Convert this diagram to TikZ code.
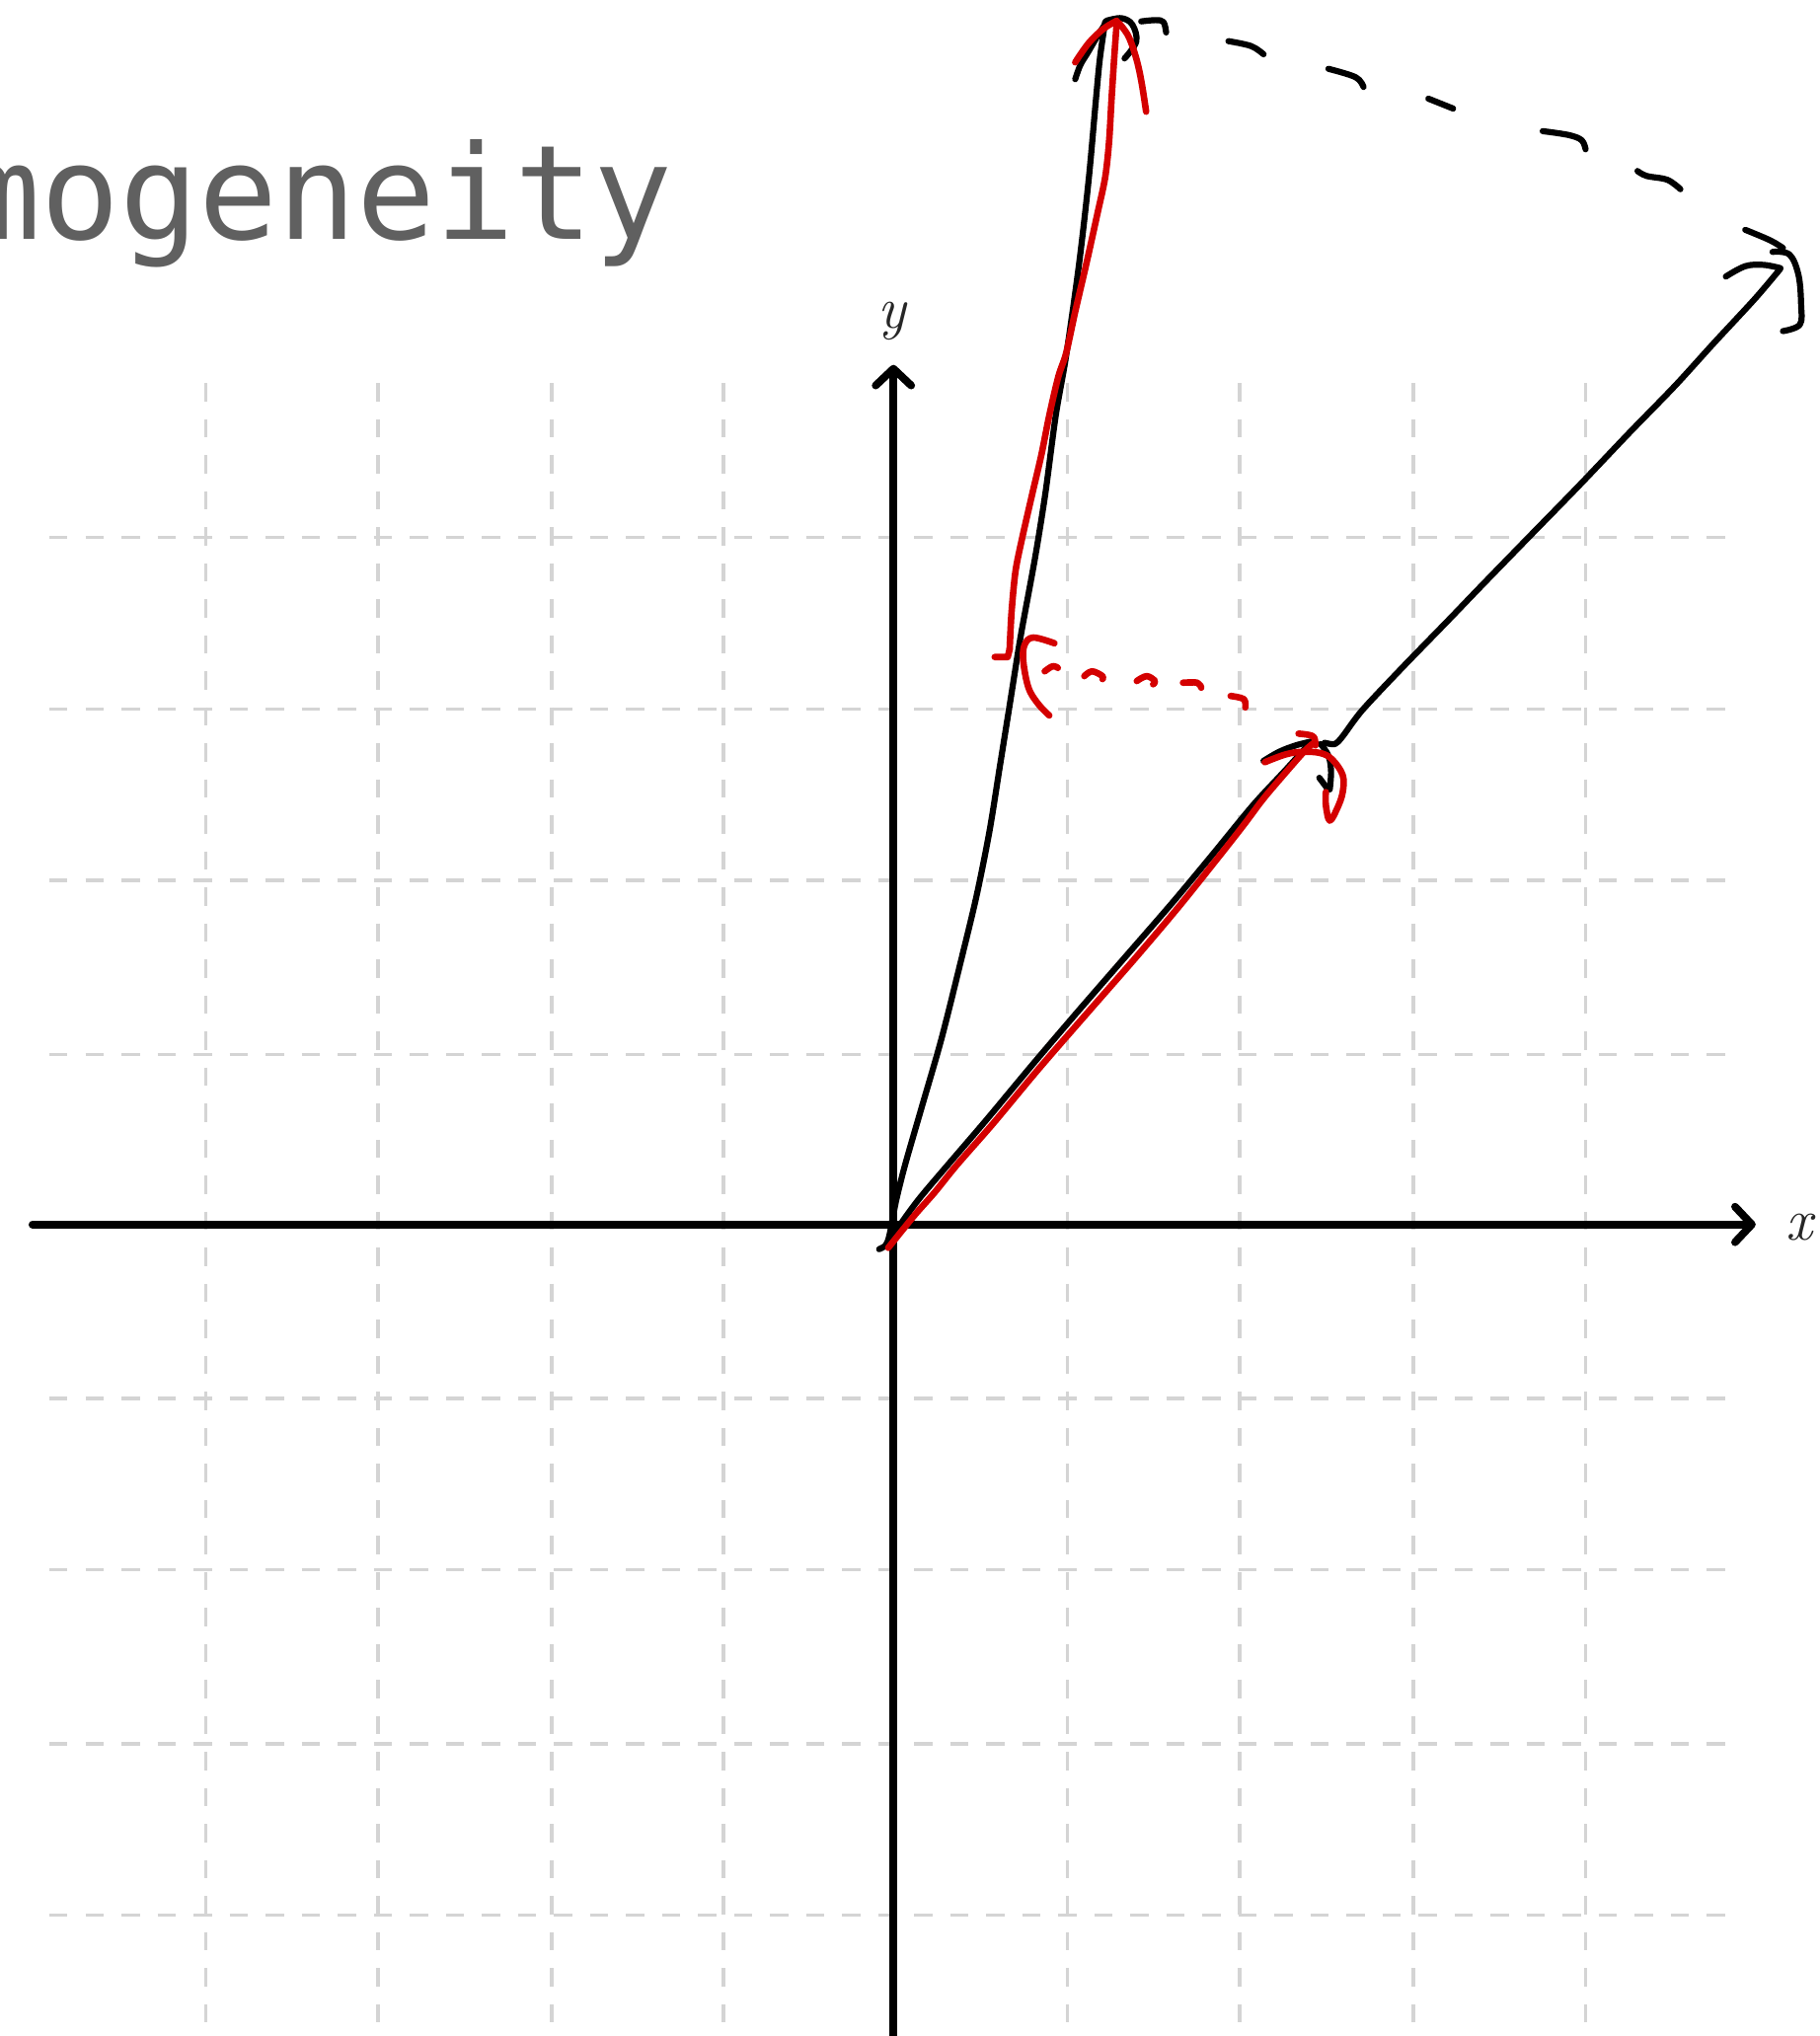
\documentclass[tikz,border=0pt]{standalone}
\usepackage{fontspec}
\newfontfamily\monofam{DejaVu Sans Mono}
\usetikzlibrary{arrows.meta}
\definecolor{sketchred}{RGB}{212,0,0}
\definecolor{titlegray}{RGB}{96,96,96}
\definecolor{gridgray}{RGB}{212,212,212}
\tikzset{
  gridline/.style={draw=gridgray, line width=1.7pt, dash pattern=on 9.25pt off 9pt},
  axisline/.style={draw=black, line width=3.9pt, line cap=round,
    -{Straight Barb[length=8.5pt,width=18pt,line cap=round,line join=round]}},
  blk/.style={draw=black, line width=3.1pt, line cap=round, line join=round},
  redk/.style={draw=sketchred, line width=3.3pt, line cap=round, line join=round},
  axlabel/.style={font=\fontsize{30}{32}\selectfont\itshape, text=black!85, inner sep=0pt, anchor=base},
}
\begin{document}
\begin{tikzpicture}[x=0.65775pt,y=-0.65775pt]
\useasboundingbox (0,0) rectangle (1401,1568);
% grid
\foreach \gx in {158.5,291,425,557,822,954.5,1088.5,1221}
  \draw[gridline] (\gx,295) -- (\gx,1568);
\foreach \gy in {414,546,678,812,1077,1209,1343,1475}
  \draw[gridline] (38,\gy) -- (1340,\gy);
% axes
\coordinate (O) at (688,943);
\coordinate (xs) at (25,943);
\coordinate (xe) at (1352,943);
\coordinate (ys) at (688,1575);
\coordinate (ye) at (688,281);
\draw[axisline] (xs) -- (xe);
\draw[axisline] (ys) -- (ye);
\node[axlabel] (xlab) at (1385.5,955) {x};
\node[axlabel] (ylab) at (687,253) {y};
% title
\node[anchor=base west, inner sep=0pt, text=titlegray,
      font=\monofam\fontsize{66.5}{70}\selectfont] (title) at (-29.7,184.5) {mogeneity};

% ---------- black strokes ----------
% steep vector
\draw[blk] plot[smooth, tension=0.5] coordinates {(677,962) (682,959) (685,951) (690,925) (697,897) (710,852) (725,800) (740,740) (752,690) (762,640) (770,590) (778,540) (786,490) (797,430) (805,380) (813,320) (821,274) (831,203) (838.5,137) (844,76) (847,45) (851,17)};
\draw[blk] plot[smooth, tension=0.6] coordinates {(828,61) (832,50) (838,40) (845,28) (852,17)};
\draw[blk] plot[smooth, tension=0.6] coordinates {(852,16) (863.6,14) (872,19) (875,32) (866,45)};
% long diagonal vector
\draw[blk] plot[smooth, tension=0.5] coordinates {(686,955) (694,942) (708,923) (730,897) (760,862) (795,820) (830,779) (870,733) (903,695) (933,659) (965,620) (990,593) (1009,572)};
\draw[blk] plot[smooth, tension=0.6] coordinates {(973,586) (985,579) (998,574) (1010,571)};
\draw[blk] plot[smooth, tension=0.6] coordinates {(1017,573) (1023,582) (1025,594) (1024,608)};
\draw[blk] (1016,599) -- (1022,607);
\draw[blk] plot[smooth, tension=0.5] coordinates {(1020,572) (1028,573) (1034,567) (1049,547) (1080,514) (1115,478) (1140,452) (1175,416) (1215,375) (1255,333) (1290,297) (1320,264) (1351.5,230) (1371,207)};
\draw[blk] plot[smooth, tension=0.6] coordinates {(1329,213) (1344,205) (1358,204) (1371,206.5)};
\draw[blk] plot[smooth, tension=0.6] coordinates {(1365,194) (1378,196) (1385,212) (1387,235) (1386,250) (1373,255)};
% black dashed arc
\draw[blk] plot[smooth, tension=0.6] coordinates {(878.8,16.5) (890,15.5) (896,17) (898,25)};
\draw[blk] plot[smooth, tension=0.6] coordinates {(946,31.7) (963.5,35.5) (973,41.8)};
\draw[blk] plot[smooth, tension=0.6] coordinates {(1023,53) (1044,59.5) (1050,67)};
\draw[blk] plot[smooth, tension=0.6] coordinates {(1100,76) (1119,83.6)};
\draw[blk] plot[smooth, tension=0.6] coordinates {(1188,101) (1208,104) (1218,108) (1221,115)};
\draw[blk] plot[smooth, tension=0.6] coordinates {(1261,131.7) (1268,135.5) (1284,138.5) (1294,145.7)};
\draw[blk] plot[smooth, tension=0.6] coordinates {(1344,177) (1363,185) (1373,191)};

% ---------- red strokes ----------
% steep red vector
\draw[redk] (766,506) -- (776,506) -- (777.5,500);
\draw[redk] plot[smooth, tension=0.5] coordinates {(777.5,500) (779,471) (782,440) (787,415) (795,380) (802,350) (808,320) (815,290) (821,272) (828,240) (836.6,203) (845,165) (851,137) (854,110) (856,76) (858,45) (860,17)};
\draw[redk] plot[smooth, tension=0.6] coordinates {(828,48) (838.5,33) (850,22) (860,16)};
\draw[redk] plot[smooth, tension=0.6] coordinates {(861.6,17.7) (869,28) (875,45) (879,63) (882.6,86)};
% short red vector
\draw[redk] plot[smooth, tension=0.5] coordinates {(684,961) (692,951) (705,935) (720,918) (737,897) (765,865) (800,823) (840,777) (875,737) (908,698) (940,658) (958,635) (973,615) (990,595) (1005,578) (1012,572)};
\draw[redk] plot[smooth, tension=0.6] coordinates {(1000,565) (1008,566) (1012,568) (1013,574)};
\draw[redk] plot[smooth, tension=0.6] coordinates {(974,587) (990,581) (1003,579) (1017,580) (1026,585) (1034,597) (1034,610) (1030,622) (1024,632) (1021,620) (1021,610)};
% red dashed arc
\draw[redk] plot[smooth, tension=0.6] coordinates {(812,495.4) (795.7,491) (789,496.6) (788,509) (792,529.6) (799.4,542) (808,551)};
\draw[redk] plot[smooth, tension=0.6] coordinates {(804.5,517) (810.8,513) (814.6,514.4)};
\draw[redk] plot[smooth, tension=0.6] coordinates {(835,520.7) (841,517) (849,520.7) (849,523)};
\draw[redk] plot[smooth, tension=0.6] coordinates {(875.4,524.5) (883,520.7) (889.4,524.5) (888,527)};
\draw[redk] plot[smooth, tension=0.6] coordinates {(911,525.8) (922,525.8) (925,529.6)};
\draw[redk] plot[smooth, tension=0.6] coordinates {(947.7,536) (957.8,538.4) (959,544.8)};
\end{tikzpicture}
\end{document}
